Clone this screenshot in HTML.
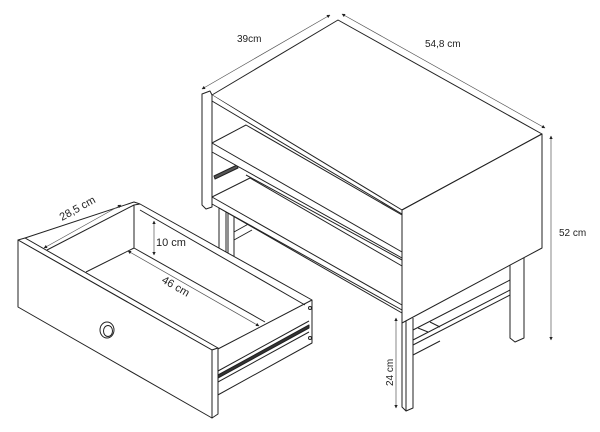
<!DOCTYPE html>
<html><head><meta charset="utf-8"><style>
html,body{margin:0;padding:0;background:#fff;}
svg{display:block;}
text{font-family:"Liberation Sans",sans-serif;font-size:10px;fill:#222;}
</style></head><body>
<svg width="600" height="432" viewBox="0 0 600 432" xmlns="http://www.w3.org/2000/svg">
<defs>
<marker id="a" viewBox="0 0 10 10" refX="9" refY="5" markerWidth="5" markerHeight="5" orient="auto-start-reverse"><path d="M0,0 L10,5 L0,10 z" fill="#222"/></marker>
</defs>
<g fill="#fff" stroke="#222" stroke-width="1" stroke-linejoin="round">
<rect x="219" y="208" width="7" height="48"/>
<rect x="228" y="208" width="6" height="50"/>
<path d="M234,232 L252,222 M234,240 L252,230"/>
<path d="M510,250 L510,338 L515,342 L524,338 L524,245"/>
<path d="M413,330 L510,280 L510,290 L413,340 z"/>
<path d="M413,345 L510,295 M413,355 L440,341"/>
<path d="M418,328 L428,332 M430,322 L440,327"/>
<path d="M402,318 L402,407 L406,411 L413,408 L413,318"/>
<path d="M406,318 L406,411"/>
<path d="M202,94 L210,91 L212,95 L212,207 L206,209 L202,205 z"/>
<path d="M212,95 L338,20 L542,134 L402,210 z"/>
<path d="M212,95 L212,101 L402,214"/>
<path d="M402,210 L542,134"/>
<path d="M214,176 L237,165 L238,168 L215,179 z" fill="#555"/>
<path d="M212,143 L246,125 L402,215 L402,258 L212,152 z" fill="#fff"/>
<path d="M212,143 L402,252"/>
<path d="M212,143 L212,152"/>
<path d="M246,175 L402,260"/>
<path d="M212,197 L250,178 L402,266 L402,310 L212,204 z"/>
<path d="M212,197 L402,305"/>
<path d="M219,208 L402,313"/>
<path d="M402,210 L542,134 L542,248 L402,323 z"/>
<path d="M402,210 L402,323"/>
</g>
<g stroke="#555" stroke-width="0.7" fill="none">
<line x1="202" y1="89" x2="330" y2="15" marker-start="url(#a)" marker-end="url(#a)"/>
<line x1="342" y1="14" x2="545" y2="128" marker-start="url(#a)" marker-end="url(#a)"/>
<line x1="551" y1="136" x2="551" y2="340" marker-start="url(#a)" marker-end="url(#a)"/>
<line x1="396" y1="318" x2="396" y2="408" marker-start="url(#a)" marker-end="url(#a)"/>
</g>
<text x="237" y="42">39cm</text>
<text x="425" y="47">54,8 cm</text>
<text x="559" y="236">52 cm</text>
<text transform="translate(393,386) rotate(-90)">24 cm</text>
<g fill="#fff" stroke="#222" stroke-width="1" stroke-linejoin="round">
<path d="M25,238 L134,202 L140,204 L312,300 L312,343 L216,396 L216,350 z"/>
<path d="M47,250 L134,205 L134,248 M86,272 L134,248 L265,322 M140,210 L305,305 M134,205 L140,204"/>
<path d="M216,350 L312,300"/>
<path d="M218,375 L309,325 L309,328 L218,378 z" fill="#333"/>
<path d="M218,371 L309,321 M218,382 L309,332" fill="none"/>
<path d="M18,240 L25,238 L218,348 L212,350 z"/>
<path d="M18,240 L212,350 L212,418 L18,307 z"/>
<path d="M212,350 L218,348 L218,414 L212,418 z"/>
<ellipse cx="107" cy="330" rx="7" ry="8"/>
<ellipse cx="108" cy="331" rx="4.5" ry="5.5"/>
<circle cx="310" cy="308" r="1.5"/>
<circle cx="310" cy="338" r="1.5"/>
</g>
<g stroke="#555" stroke-width="0.7" fill="none">
<line x1="44" y1="248" x2="121" y2="205" marker-start="url(#a)" marker-end="url(#a)"/>
<line x1="154" y1="221" x2="154" y2="255" marker-start="url(#a)" marker-end="url(#a)"/>
<line x1="128" y1="251" x2="259" y2="326" marker-start="url(#a)" marker-end="url(#a)"/>
</g>
<text transform="translate(62,221) rotate(-29)" style="font-size:11px">28,5 cm</text>
<text x="156" y="246" style="font-size:11px">10 cm</text>
<text transform="translate(161,282) rotate(30)" style="font-size:11px">46 cm</text>
</svg>
</body></html>
